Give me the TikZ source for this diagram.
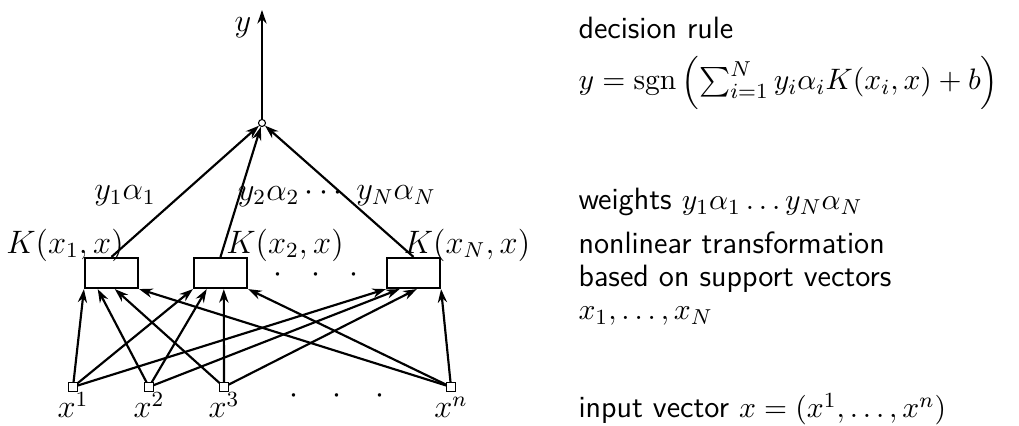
\documentclass[tikz,border=0pt]{standalone}
\usepackage{amsmath}
\usetikzlibrary{arrows.meta,positioning,calc}

\begin{document}
\begin{tikzpicture}[
    x=0.37pt, y=0.37pt,
    kernel/.style={draw, rectangle, line width=0.8pt, minimum width=19.6pt, minimum height=11.1pt, inner sep=0},
    input/.style={draw, rectangle, fill=white, line width=0.4pt, minimum size=3pt, inner sep=0},
    sum/.style={draw, circle, fill=white, minimum size=2.6pt, inner sep=0, line width=0.4pt},
    arrow/.style={-{Stealth[length=5pt,width=3.4pt,inset=1.6pt]}, line width=0.8pt},
    lbl/.style={font=\large, inner sep=0},
    note/.style={anchor=base west, inner sep=0, align=left, font=\sffamily\fontsize{11.4pt}{12.3pt}\selectfont}
]
\useasboundingbox (0,0) rectangle (1019,426);

% output unit
\node[sum] (s) at (262,303) {};
\coordinate (out) at (262,416);
\draw[arrow] (s) -- (out);
\node[lbl] (ylab) at (243,398) {$y$};

% kernel units
\node[kernel] (k1) at (111.5,153) {};
\node[kernel] (k2) at (220.5,153) {};
\node[kernel] (k3) at (413.5,153) {};
\node[lbl, anchor=base] (kdots) at (316,143) {$\cdot\hspace{8pt}\cdot\hspace{8pt}\cdot$};

\node[lbl] (K1) at (65,181) {$K(x_1,x)$};
\node[lbl] (K2) at (285,181) {$K(x_2,x)$};
\node[lbl] (K3) at (467,181) {$K(x_N,x)$};

% weights
\foreach \k in {k1,k2,k3}
    \draw[arrow] (\k.north) -- (s);
\node[lbl] (w1) at (125,230) {$y_1\alpha_1$};
\node[lbl] (w2) at (293,230) {$y_2\alpha_2\cdots$};
\node[lbl] (w3) at (396,230) {$y_N\alpha_N$};

% input vector
\node[input] (x1) at (73,39) {};
\node[input] (x2) at (149,39) {};
\node[input] (x3) at (224,39) {};
\node[input] (x4) at (451,39) {};
\node[lbl, anchor=base] (xl1) at (73,8) {$x^1$};
\node[lbl, anchor=base] (xl2) at (149,8) {$x^2$};
\node[lbl, anchor=base] (xl3) at (224,8) {$x^3$};
\node[lbl, anchor=base] (xl4) at (451,8) {$x^n$};
\node[lbl, anchor=base] (xdots) at (337,22) {$\cdot\hspace{10pt}\cdot\hspace{10pt}\cdot$};

% every input feeds every kernel unit
\foreach \k in {k1,k2,k3}
    \foreach \x/\f in {x1/0,x2/0.25,x3/0.56,x4/1}
        \draw[arrow] (\x) -- ($(\k.south west)!\f!(\k.south east)$);

% explanations
\node[note] (n1) at (578,387) {decision rule};
\node[note] (n2) at (578,336) {$y=\operatorname{sgn}\left(\sum_{i=1}^N y_i\alpha_i K(x_i,x)+b\right)$};
\node[note] (n3) at (578,216) {weights $y_1\alpha_1\ldots y_N\alpha_N$};
\node[note] (n4) at (578,106) {nonlinear transformation\\based on support vectors\\$x_1,\ldots,x_N$};
\node[note] (n5) at (578,8) {input vector $x=(x^1,\ldots,x^n)$};
\end{tikzpicture}
\end{document}
